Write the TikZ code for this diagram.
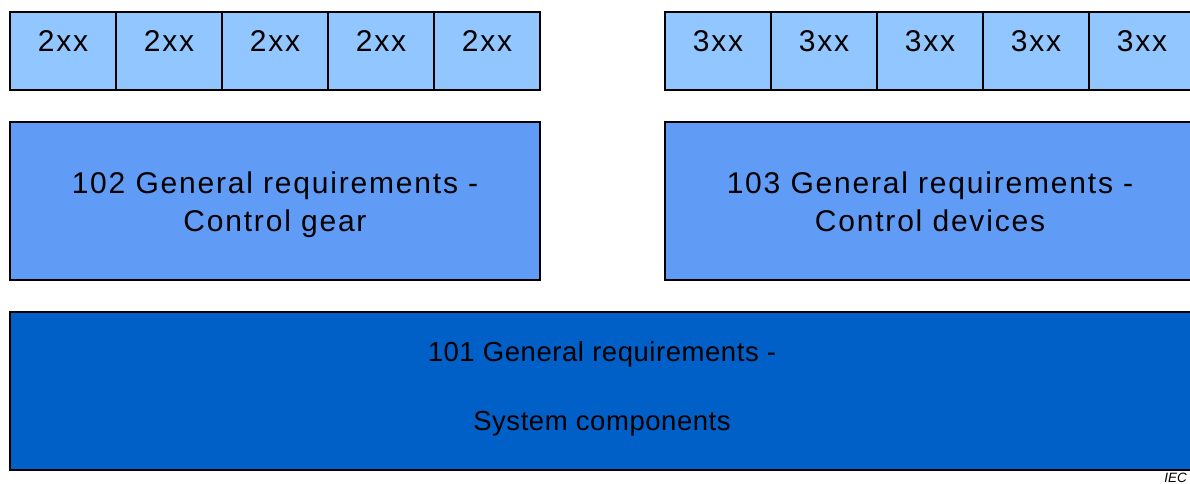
\documentclass[tikz,border=0pt]{standalone}
\usepackage{fontspec}
\setmainfont{Liberation Sans}
\newfontfamily\widefont{Liberation Sans}[LetterSpace=6]
\newfontfamily\narrowfont{Liberation Sans}[LetterSpace=2]
\definecolor{celllight}{RGB}{146,198,255}
\definecolor{boxmid}{RGB}{96,156,245}
\definecolor{boxdark}{RGB}{0,96,200}
\tikzset{
  cellbox/.style={draw=black, line width=1.5pt, fill=celllight, inner sep=0pt,
    minimum width=106pt, text height=40pt, text depth=38pt,
    font=\widefont\fontsize{30}{36}\selectfont},
  midbox/.style={draw=black, line width=1.5pt, fill=boxmid, inner sep=0pt,
    minimum width=530pt, minimum height=158pt},
  bigbox/.style={draw=black, line width=1.5pt, fill=boxdark, inner sep=0pt,
    minimum width=1185pt, minimum height=158pt},
  midtext/.style={anchor=base, inner sep=0pt, font=\widefont\fontsize{30}{36}\selectfont},
  bigtext/.style={anchor=base, inner sep=0pt, font=\narrowfont\fontsize{27.5}{33}\selectfont},
}
\begin{document}
\begin{tikzpicture}[x=1pt,y=-1pt]
\useasboundingbox (0,0) rectangle (1190,484);
% top row cells
\foreach \i in {0,...,4}{
  \node[cellbox] (two\i) at ({63+106*\i},51) {2xx};
  \node[cellbox] (three\i) at ({718+106*\i},51) {3xx};
}
% middle boxes
\node[midbox] (b102) at (275,201) {};
\node[midtext] (t102a) at (275,193) {102 General requirements -};
\node[midtext] (t102b) at (275,231) {Control gear};
\node[midbox] (b103) at (930,201) {};
\node[midtext] (t103a) at (930,193) {103 General requirements -};
\node[midtext] (t103b) at (930,231) {Control devices};
% bottom box
\node[bigbox] (b101) at (602.5,391) {};
\node[bigtext] (t101a) at (602,361) {101 General requirements -};
\node[bigtext] (t101b) at (602,430) {System components};
% IEC mark
\node[anchor=base east, inner sep=0pt, font=\itshape\fontsize{13.5}{16}\selectfont] (iec) at (1187,482.5) {IEC};
\end{tikzpicture}
\end{document}
